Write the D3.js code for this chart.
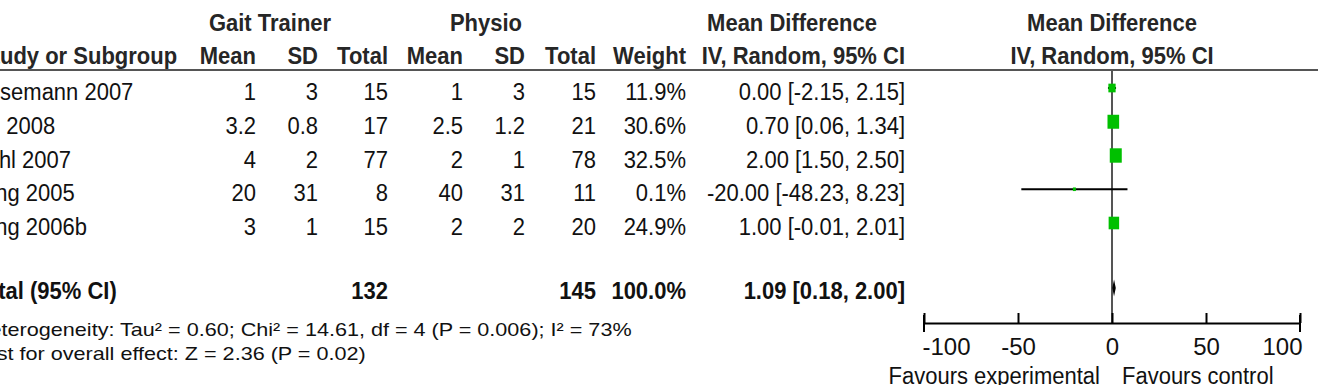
<!DOCTYPE html>
<html>
<head>
<meta charset="utf-8">
<script src="https://cdn.jsdelivr.net/npm/d3@7"></script>
<style>
  html, body { margin: 0; padding: 0; background: #fff; overflow: hidden; }
  svg { display: block; font-family: "Liberation Sans", Arial, sans-serif; }
  .hd { font-weight: bold; fill: #262626; }
  .val { fill: #111; }
  .tot { font-weight: bold; fill: #111; }
</style>
</head>
<body>
<div id="chart"></div>
<script>
// study rows (names are cut at the left edge in the original)
var studies = ["Husemann 2007", "Ng 2008", "Pohl 2007", "Tong 2005", "Tong 2006b"];
var gaitMean = [1, 3.2, 4, 20, 3];
var gaitSD = [3, 0.8, 2, 31, 1];
var gaitTotal = [15, 17, 77, 8, 15];
var physioMean = [1, 2.5, 2, 40, 2];
var physioSD = [3, 1.2, 1, 31, 2];
var physioTotal = [15, 21, 78, 11, 20];
var weights = [11.9, 30.6, 32.5, 0.1, 24.9];
var meanDiff = [0.00, 0.70, 2.00, -20.00, 1.00];
var ciLow = [-2.15, 0.06, 1.50, -48.23, -0.01];
var ciHigh = [2.15, 1.34, 2.50, 8.23, 2.01];

// pooled result
var totalN = [132, 145];
var totalWeight = 100.0;
var totalMD = [1.09, 0.18, 2.00]; // estimate, low, high

var xTicks = [-100, -50, 0, 50, 100];
var heterogeneityText = "Heterogeneity: Tau\u00b2 = 0.60; Chi\u00b2 = 14.61, df = 4 (P = 0.006); I\u00b2 = 73%";
var overallText = "Test for overall effect: Z = 2.36 (P = 0.02)";
var favourLeft = "Favours experimental";
var favourRight = "Favours control";

var W = 1318, H = 385;
var svg = d3.select("#chart").append("svg")
    .attr("width", W)
    .attr("height", H);

// column right edges of the table
var colRight = {gMean: 256, gSD: 318, gTot: 388, pMean: 463, pSD: 525, pTot: 596, weight: 686, ci: 905};

var rowY = d3.scaleLinear().domain([0, studies.length - 1]).range([100, 235]);
var totalY = 299;
var x = d3.scaleLinear().domain([-100, 100]).range([924, 1300]);
var axisY = 323;
var size = d3.scaleSqrt().domain([0, d3.max(weights)]).range([0, 12]);

// plain hyphen for negatives, like RevMan prints them
var locale = d3.formatLocale({decimal: ".", thousands: ",", grouping: [3], currency: ["", ""], minus: "-"});
var f2 = locale.format(".2f"), f1 = locale.format(".1f");

function txt(sx, sy, cls, size) {
    return function(xp, yp, s, anchor) {
        return svg.append("text")
            .attr("class", cls)
            .attr("transform", "translate(" + xp + "," + yp + ") scale(" + sx + "," + sy + ")")
            .attr("text-anchor", anchor || "end")
            .style("font-size", size + "px")
            .text(s);
    };
}
var head = txt(1, 1.12, "hd", 22),
    cell = txt(1, 1.12, "val", 22),
    bold = txt(1, 1.12, "tot", 22),
    foot = txt(1.2, 1, "val", 18);

// headers
head(270, 31, "Gait Trainer", "middle");
head(486, 31, "Physio", "middle");
head(792, 31, "Mean Difference", "middle");
head(x(0), 31, "Mean Difference", "middle");
head(-22, 64, "Study or Subgroup", "start");
head(colRight.gMean, 64, "Mean");
head(colRight.gSD, 64, "SD");
head(colRight.gTot, 64, "Total");
head(colRight.pMean, 64, "Mean");
head(colRight.pSD, 64, "SD");
head(colRight.pTot, 64, "Total");
head(colRight.weight, 64, "Weight");
head(colRight.ci, 64, "IV, Random, 95% CI");
head(x(0), 64, "IV, Random, 95% CI", "middle");

svg.append("line")
    .attr("x1", 0).attr("x2", W)
    .attr("y1", 70).attr("y2", 70)
    .attr("stroke", "#555").attr("stroke-width", 2);

// study rows
studies.forEach(function(s, i) {
    var y = rowY(i);
    cell(-28, y, s, "start");
    cell(colRight.gMean, y, gaitMean[i]);
    cell(colRight.gSD, y, gaitSD[i]);
    cell(colRight.gTot, y, gaitTotal[i]);
    cell(colRight.pMean, y, physioMean[i]);
    cell(colRight.pSD, y, physioSD[i]);
    cell(colRight.pTot, y, physioTotal[i]);
    cell(colRight.weight, y, f1(weights[i]) + "%");
    cell(colRight.ci, y, f2(meanDiff[i]) + " [" + f2(ciLow[i]) + ", " + f2(ciHigh[i]) + "]");
});

// total row
bold(-27, totalY, "Total (95% CI)", "start");
bold(colRight.gTot, totalY, totalN[0]);
bold(colRight.pTot, totalY, totalN[1]);
bold(colRight.weight, totalY, f1(totalWeight) + "%");
bold(colRight.ci, totalY, f2(totalMD[0]) + " [" + f2(totalMD[1]) + ", " + f2(totalMD[2]) + "]");

foot(-26, 336, heterogeneityText, "start");
foot(-26, 360, overallText, "start");

// forest plot: line of no effect
svg.append("line")
    .attr("x1", x(0)).attr("x2", x(0))
    .attr("y1", 70).attr("y2", axisY)
    .attr("stroke", "#555").attr("stroke-width", 2);

var rows = svg.append("g").selectAll("g")
    .data(studies.map(function(s, i) { return i; }))
    .enter().append("g");

rows.append("line")
    .attr("x1", function(i) { return x(ciLow[i]); })
    .attr("x2", function(i) { return x(ciHigh[i]); })
    .attr("y1", function(i) { return rowY(i) - 12; })
    .attr("y2", function(i) { return rowY(i) - 12; })
    .attr("stroke", "#000").attr("stroke-width", 2);

rows.append("rect")
    .attr("x", function(i) { return x(meanDiff[i]) - Math.max(3, size(weights[i])) / 2; })
    .attr("y", function(i) { return rowY(i) - 12 - Math.max(3, size(weights[i])) * 0.6; })
    .attr("width", function(i) { return Math.max(3, size(weights[i])); })
    .attr("height", function(i) { return Math.max(3, size(weights[i])) * 1.2; })
    .attr("fill", "#00c000");

// pooled diamond
var dy = totalY - 11, dh = 8.5;
svg.append("path")
    .attr("d", "M" + x(totalMD[1]) + "," + dy +
        "L" + x(totalMD[0]) + "," + (dy - dh) +
        "L" + x(totalMD[2]) + "," + dy +
        "L" + x(totalMD[0]) + "," + (dy + dh) + "Z")
    .attr("fill", "#000");

// axis
var xAxis = d3.axisBottom(x)
    .tickValues(xTicks)
    .tickSize(-10)
    .tickSizeOuter(0)
    .tickPadding(15)
    .tickFormat(locale.format("d"));

var ax = svg.append("g")
    .attr("transform", "translate(0," + axisY + ")")
    .call(xAxis);
ax.select(".domain").attr("stroke", "#000").attr("stroke-width", 2);
ax.selectAll(".tick line").attr("stroke", "#000").attr("stroke-width", 2);
ax.selectAll(".tick text")
    .attr("fill", "#111")
    .style("font-size", "24px")
    .style("font-family", "'Liberation Sans', Arial, sans-serif")
    .attr("text-anchor", function(d, i) { return i === 0 ? "start" : (i === xTicks.length - 1 ? "end" : "middle"); })
    .attr("dx", function(d, i) { return i === 0 ? "-2" : (i === xTicks.length - 1 ? "2" : "0"); });

// end ticks go both sides
ax.selectAll(".endtick")
    .data(x.domain())
    .enter().append("line")
    .attr("x1", function(d) { return x(d); })
    .attr("x2", function(d) { return x(d); })
    .attr("y1", -8).attr("y2", 9)
    .attr("stroke", "#000").attr("stroke-width", 2);

cell(1100, 384, favourLeft);
cell(1122, 384, favourRight, "start");
</script>
</body>
</html>
